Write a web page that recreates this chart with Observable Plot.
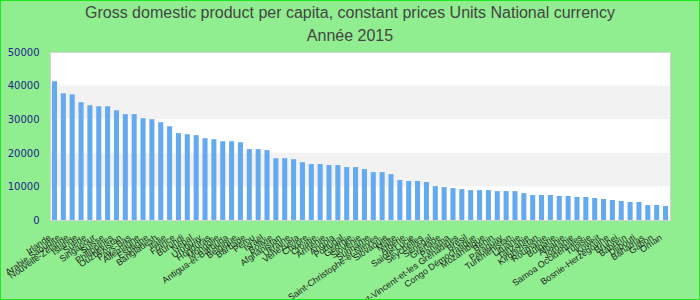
<!DOCTYPE html>
<html><head><meta charset="utf-8">
<script src="https://cdn.jsdelivr.net/npm/d3@7"></script>
<script src="https://cdn.jsdelivr.net/npm/@observablehq/plot@0.6"></script>
<style>
body{margin:0;}
#wrap{position:relative;width:700px;height:300px;background:#90ee90;overflow:hidden;}
#wrap::after{content:"";position:absolute;left:0;top:0;right:0;bottom:0;border:1px solid #1ee81e;pointer-events:none;}
.t{font-family:"Liberation Sans",Arial,sans-serif;font-size:16px;color:#444;text-align:center;line-height:23px;padding-top:1px;}
#chart{position:absolute;left:0;top:46px;}
</style></head>
<body><div id="wrap"><div class="t">Gross domestic product per capita, constant prices Units National currency<br>Année 2015</div><div id="chart"></div></div>
<script>
const countries = [
  "Irlande","Arabie Saoudite","Nouvelle-Zélande","Islande","Suède","Singapour","Suisse","Philippines","Ouzbékistan","Pays-Bas",
  "Allemagne","Espagne","Bangladesh","Italie","France","Burundi","Népal","Uruguay","Honduras","Mongolie",
  "Antigua-et-Barbuda","Belgique","Barbade","Pérou","Israël","Bolivie","Afghanistan","Ukraine","Venezuela","Chypre",
  "Croatie","Arménie","Angola","Portugal","Géorgie","Slovénie","Suriname","Saint-Christophe-et-Niévès","Slovaquie","Malte",
  "Algérie","Sainte-Lucie","Seychelles","Sénégal","Grenade","Panama","Saint-Vincent-et-les Grenadines","Brésil","Congo Démocratique","Mozambique",
  "Bénin","Paraguay","Turkménistan","Lituanie","Tanzanie","Kirghizistan","Roumanie","Bulgarie","Albanie","Jordanie",
  "Samoa Occidentales","Tunisie","Koweït","Bosnie-Herzégovine","Brunei","Bahreïn","Djibouti","Bahamas","Gabon","Oman"
];
const values = [
  41300,37700,37400,35050,34150,33850,33850,32650,31500,31500,
  30300,30000,29100,27900,25850,25550,25250,24350,24050,23450,
  23450,23150,21100,21100,20800,18400,18400,18100,17200,16650,
  16650,16350,16350,15750,15750,15150,14250,14250,13650,11900,
  11600,11600,11300,10100,9800,9500,9200,8900,8900,8900,
  8600,8600,8600,8000,7450,7450,7450,7150,7150,6850,
  6850,6550,6250,5950,5650,5350,5350,4450,4450,4150
];
const yTicks = [0,10000,20000,30000,40000,50000];

const data = countries.map((c,i)=>({country:c, value:values[i]}));
const bands = yTicks.slice(0,-1).map((v,i)=>({y1:v, y2:yTicks[i+1], i}));

const plot = Plot.plot({
  width:700, height:254,
  marginTop:6, marginBottom:80, marginLeft:50, marginRight:30,
  style:{background:"transparent", fontFamily:"Liberation Sans, Arial, sans-serif", fontSize:"9px", color:"#222"},
  x:{type:"band", domain:countries, paddingInner:0.43, paddingOuter:0.22, label:null},
  y:{domain:[0,50000], label:null},
  marks:[
    Plot.frame({fill:"white"}),
    Plot.rect(bands.filter(d=>d.i%2===1), {y1:"y1", y2:"y2", fill:"#f2f2f2"}),
    Plot.barY(data, {x:"country", y:"value", fill:"#63aaf1"}),
    Plot.frame({stroke:"#d4d4d4"}),
    Plot.axisY(yTicks, {tickSize:0, tickPadding:11, tickFormat:d3.format("d"), fill:"#22228a", fontFamily:"DejaVu Sans", fontSize:10, label:null}),
    Plot.axisX({tickSize:0, tickRotate:-35, tickPadding:16, dx:-5, fill:"#222", fontSize:9, label:null})
  ]
});
document.getElementById("chart").appendChild(plot);
</script>
</body></html>
